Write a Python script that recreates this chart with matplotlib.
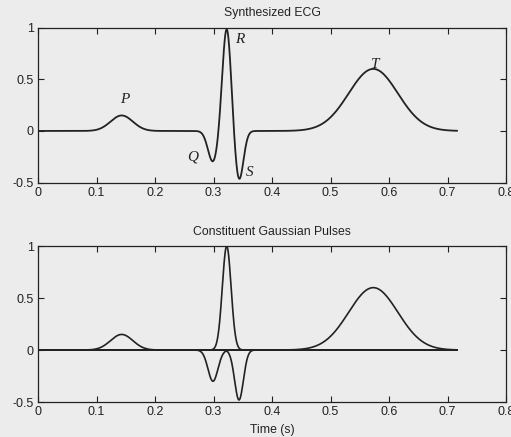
import numpy as np
import matplotlib
matplotlib.use('Agg')
import matplotlib.pyplot as plt

# Gaussian pulse parameters: P, Q, R, S, T waves
wave_names = ['P', 'Q', 'R', 'S', 'T']
centers = [0.143, 0.299, 0.3225, 0.3435, 0.573]
amplitudes = [0.15, -0.30, 1.0, -0.48, 0.60]
widths = [0.019, 0.0085, 0.0075, 0.0075, 0.042]
t_end = 0.716

# where the wave letters sit on the top panel
label_t = [0.149, 0.265, 0.345, 0.362, 0.576]
label_y = [0.30, -0.25, 0.88, -0.40, 0.64]

x_ticks = [0, 0.1, 0.2, 0.3, 0.4, 0.5, 0.6, 0.7, 0.8]
y_ticks = [-0.5, 0, 0.5, 1]

plt.rcParams['font.family'] = ['Liberation Sans', 'DejaVu Sans']
paper = '#ececec'
ink = '#222222'

t = np.linspace(0, t_end, 1500)
pulses = [a * np.exp(-(t - c) ** 2 / (2 * w ** 2)) for c, a, w in zip(centers, amplitudes, widths)]
ecg = np.sum(pulses, axis=0)

fig = plt.figure(figsize=(5.11, 4.37), dpi=100, facecolor=paper)
ax1 = fig.add_axes([0.0744, 0.582, 0.916, 0.355])
ax2 = fig.add_axes([0.0744, 0.080, 0.916, 0.357])


def style(ax):
    ax.set_facecolor(paper)
    ax.set_xlim(0, 0.8)
    ax.set_ylim(-0.5, 1)
    ax.set_xticks(x_ticks)
    ax.set_xticklabels(['0', '0.1', '0.2', '0.3', '0.4', '0.5', '0.6', '0.7', '0.8'])
    ax.set_yticks(y_ticks)
    ax.set_yticklabels(['-0.5', '0', '0.5', '1'])
    ax.tick_params(direction='in', top=True, right=True, length=4, width=0.8,
                   labelsize=9, colors=ink, pad=3)
    for s in ax.spines.values():
        s.set_color(ink)
        s.set_linewidth(0.9)


ax1.plot(t, ecg, color=ink, lw=1.3)
for name, lt, ly in zip(wave_names, label_t, label_y):
    ax1.text(lt, ly, name, family='Liberation Serif', style='italic', fontsize=11,
             ha='center', va='center', color=ink)
style(ax1)
ax1.set_title('Synthesized ECG', fontsize=8.8, color=ink, pad=8)

for p in pulses:
    ax2.plot(t, p, color=ink, lw=1.2)
style(ax2)
ax2.set_title('Constituent Gaussian Pulses', fontsize=8.8, color=ink, pad=8)
ax2.set_xlabel('Time (s)', fontsize=8.8, color=ink, labelpad=4)

fig.savefig('out.png', dpi=100, facecolor=paper)
